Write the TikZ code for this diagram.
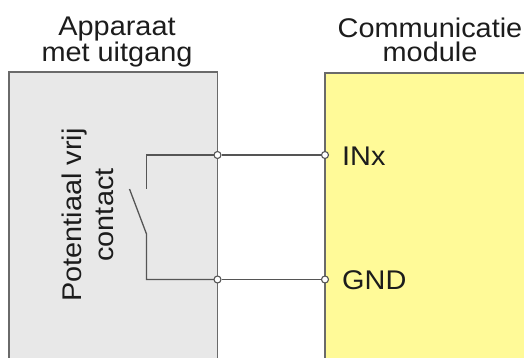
\documentclass[tikz,border=0pt]{standalone}
\usepackage{fontspec}
\setmainfont{Liberation Sans}[FakeStretch=1.07]
\definecolor{boxgray}{HTML}{E8E8E8}
\definecolor{boxyellow}{HTML}{FFFA98}
\definecolor{edge}{HTML}{6A6A6A}
\definecolor{wire}{HTML}{555555}
\definecolor{ink}{HTML}{1C1C1C}
\begin{document}
\begin{tikzpicture}[x=1pt,y=-1pt,
  boxedge/.style={draw=edge,line width=1.4pt},
  wireline/.style={draw=wire,line width=1.3pt},
  terminal/.style={circle,draw=wire,fill=white,line width=1.1pt,minimum size=7pt,inner sep=0pt},
  title/.style={font=\fontsize{27}{24}\selectfont,text=ink,align=center,inner sep=0pt,anchor=north},
  label/.style={font=\fontsize{27}{24}\selectfont,text=ink,inner sep=0pt,anchor=base west},
  vlabel/.style={font=\fontsize{27}{32}\selectfont,text=ink,align=center,inner sep=0pt,rotate=90}]
\useasboundingbox (0,0) rectangle (524,358);
% boxes
\fill[boxgray] (9,72) rectangle (217.5,362);
\fill[boxyellow] (325,73) rectangle (528,362);
\draw[boxedge] (9,362) -- (9,72) -- (217.5,72) -- (217.5,362);
\draw[boxedge] (325,362) -- (325,73) -- (528,73);
% titles
\node[title] (tleft) at (117,17) {Apparaat\\met uitgang};
\node[title] (tright) at (430,18) {Communicatie\\module};
\node[vlabel] (tcontact) at (88,215) {Potentiaal vrij\\contact};
% switch points
\coordinate (s1) at (146.5,155);
\coordinate (s2) at (146.5,189);
\coordinate (bladetop) at (129.5,189);
\coordinate (s3) at (146.5,234);
\coordinate (s4) at (146.5,279.5);
% wires
\draw[wireline] (217.5,155) -- (s1) -- (s2);
\draw[wireline] (bladetop) -- (s3) -- (s4) -- (217.5,279.5);
\node[terminal] (a1) at (217.5,155) {};
\node[terminal] (a2) at (217.5,279.5) {};
\node[terminal] (b1) at (325,155) {};
\node[terminal] (b2) at (325,279.5) {};
\draw[wireline] (a1) -- (b1);
\draw[wireline] (a2) -- (b2);
% labels
\node[label] (inx) at (342,165) {INx};
\node[label] (gnd) at (342,289.5) {GND};
\end{tikzpicture}
\end{document}
